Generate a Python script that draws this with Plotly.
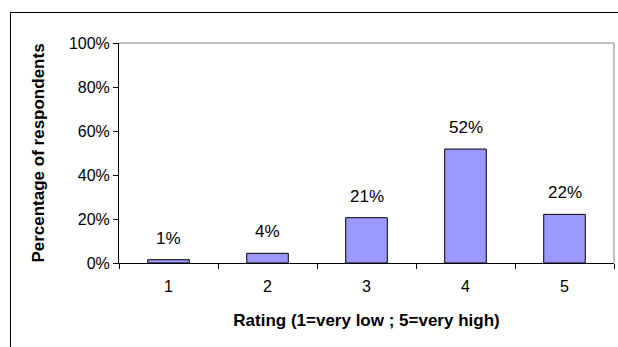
import plotly.graph_objects as go

categories = ["1", "2", "3", "4", "5"]
values = [0.015, 0.044, 0.206, 0.518, 0.221]
labels = ["1%", "4%", "21%", "52%", "22%"]

W, H = 618, 347
L, R, T, B = 119, 4, 43, 84
pw, ph = W - L - R, H - T - B

def px_x(px):
    return (px - L) / pw

def px_y(py):
    return (H - B - py) / ph

font = "Liberation Sans, Arial, sans-serif"

fig = go.Figure()
fig.add_trace(go.Bar(
    x=categories, y=values,
    marker=dict(color="#9999FF", line=dict(color="black", width=1)),
    hoverinfo="skip",
))

for i, (v, t) in enumerate(zip(values, labels)):
    fig.add_annotation(x=i, y=v, text=t, showarrow=False, yanchor="bottom",
                       yshift=10, font=dict(size=17, color="black", family=font))

# outer chart frame
fig.add_shape(type="rect", xref="paper", yref="paper",
              x0=px_x(10.5), x1=px_x(640), y0=px_y(400), y1=px_y(12.5),
              line=dict(color="black", width=1), layer="below")
# plot area border (top & right) in gray
fig.add_shape(type="line", xref="paper", yref="paper", x0=0, x1=1, y0=1, y1=1,
              line=dict(color="#808080", width=1))
fig.add_shape(type="line", xref="paper", yref="paper", x0=1, x1=1, y0=0, y1=1,
              line=dict(color="#808080", width=1))

fig.update_layout(
    width=W, height=H,
    margin=dict(l=L, r=R, t=T, b=B),
    paper_bgcolor="white", plot_bgcolor="white",
    bargap=0.58,
    showlegend=False,
    font=dict(family=font, size=16, color="black"),
    xaxis=dict(
        type="category", showgrid=False, showline=True, linecolor="black", linewidth=1,
        ticks="outside", tickson="boundaries", ticklen=5, tickcolor="black",
        tickfont=dict(size=16), range=[-0.5, 4.5], ticklabelstandoff=9,
        title=dict(text="<b>Rating (1=very low ; 5=very high)</b>", font=dict(size=17), standoff=19),
    ),
    yaxis=dict(
        range=[0, 1], dtick=0.2, tickformat=".0%", showgrid=False, zeroline=False,
        showline=True, linecolor="black", linewidth=1,
        ticks="outside", ticklen=5, tickcolor="black",
        tickfont=dict(size=16),
        title=dict(text="<b>Percentage of respondents</b>", font=dict(size=17), standoff=19),
    ),
)

fig.write_html("out.html", config={"displayModeBar": False},
               post_script="document.body.style.margin='0';")
